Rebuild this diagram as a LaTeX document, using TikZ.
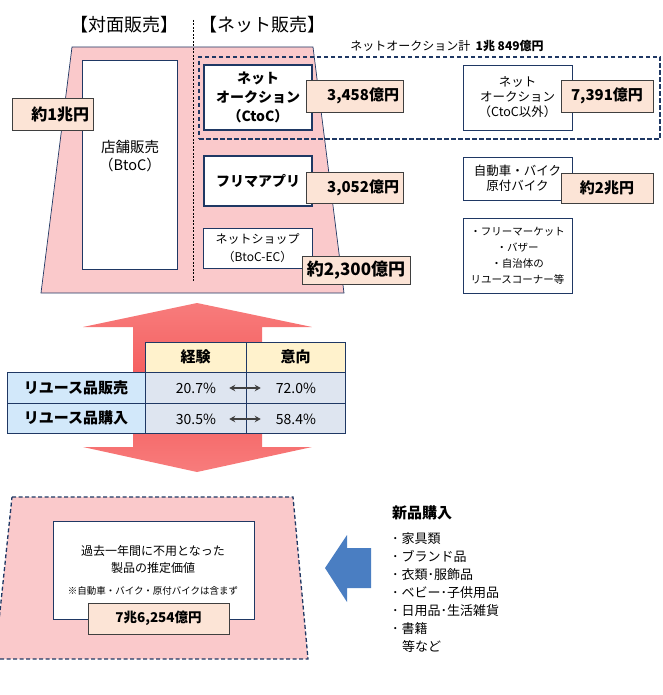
\documentclass[tikz,border=0pt]{standalone}
\usepackage{fontspec}
\setmainfont{Noto Sans CJK JP}
\usetikzlibrary{arrows.meta}
\definecolor{pinkf}{HTML}{FAC9CB}
\definecolor{navy}{HTML}{1F3864}
\definecolor{peach}{HTML}{FCE4D6}
\definecolor{lblb}{HTML}{3F3F3F}
\definecolor{hdr}{HTML}{FFF2CC}
\definecolor{rowhd}{HTML}{D2E8FA}
\definecolor{cellf}{HTML}{DEE5F0}
\definecolor{bluearr}{HTML}{4A7EC2}
\definecolor{redmid}{HTML}{F55A5A}
\definecolor{redend}{HTML}{F77C7C}
\newcommand{\fs}[2]{\fontsize{#1}{#2}\selectfont}
\begin{document}
\begin{tikzpicture}[x=1pt,y=-1pt,
  corners/.style n args={4}{at={({(#1+#3)/2},{(#2+#4)/2})}, minimum width={(#3-#1)*1pt}, minimum height={(#4-#2)*1pt}},
  thinbox/.style={draw=navy, line width=0.8pt, fill=white, inner sep=0pt, align=center},
  thickbox/.style={thinbox, line width=2.6pt, font=\bfseries\fs{14}{19}},
  vallbl/.style={draw=lblb, fill=peach, line width=0.8pt, inner sep=0pt, font=\bfseries\fs{15}{18}},
  cell/.style={draw=navy, line width=0.8pt, inner sep=0pt},
  txt/.style={inner sep=0pt, align=center},
  dbl/.style={{Stealth[length=6pt,width=6.5pt]}-{Stealth[length=6pt,width=6.5pt]}, line width=1.3pt, draw=black!75},
  trap/.style={fill=pinkf, draw=navy, line width=0.7pt}]
\useasboundingbox (0,0) rectangle (662,695);

% ---------- top part ----------
\node[txt, font=\fs{18}{20}] (hface) at (124,25) {【対面販売】};
\node[txt, font=\fs{18}{20}] (hnet) at (262,25) {【ネット販売】};

\draw[trap] (72,47) -- (313,47) -- (344,293) -- (41,293) -- cycle;
\draw[black, line width=0.6pt, dash pattern=on 2pt off 1.5pt] (193,20) -- (193,282);

\node[draw=navy, line width=1.3pt, dash pattern=on 4.5pt off 2.5pt, inner sep=0pt, corners={199}{57}{660}{139}] (aucall) {};
\node[txt, font=\fs{12}{14}, anchor=south] (auctitle) at (447,52) {ネットオークション計\ \ \textbf{1兆 849億円}};

\node[thinbox, corners={82}{60}{177}{269}] (store) {};
\node[txt, font=\fs{14.5}{18}] (storetxt) at (130,156) {店舗販売\\（BtoC）};

\node[thickbox, corners={204}{65}{312}{130}] (auc) {ネット\\オークション\\（CtoC）};
\node[thickbox, corners={204}{156}{312}{206}] (frima) {フリマアプリ};
\node[thinbox, font=\fs{12}{18}, corners={203}{228}{312}{268}] (shop) {ネットショップ\\（BtoC-EC）};

\node[vallbl, font=\bfseries\fs{16}{18}, corners={12}{98}{93}{130}, text width=73pt, align=right] (v1cho) {約1兆円};
\node[vallbl, corners={306}{80}{403}{112}, text width=89pt, align=right] (v3458) {3,458億円};
\node[vallbl, corners={306}{172}{403}{203}, text width=89pt, align=right] (v3052) {3,052億円};
\node[vallbl, font=\bfseries\fs{17}{18}, corners={302}{256}{410}{284}] (v2300) {約2,300億円};

\node[thinbox, font=\fs{12.5}{15}, corners={463}{65}{572}{130}] (aucother) {ネット\\オークション\\（CtoC以外）};
\node[thinbox, font=\fs{12.5}{15}, corners={463}{157}{572}{200}] (car) {自動車・バイク\\原付バイク};
\node[thinbox, font=\fs{10.5}{16}, corners={463}{218}{572}{293}] (flea) {・フリーマーケット\\・バザー\\・自治体の\\リユースコーナー等};

\node[vallbl, corners={561}{80}{653}{112}] (v7391) {7,391億円};
\node[vallbl, corners={561}{173}{653}{203}] (v2cho) {約2兆円};

% ---------- middle: big arrow and table ----------
\shade[top color=redend, bottom color=redend, middle color=redmid]
  (197,303) -- (312,327) -- (262,327) -- (262,447) -- (312,447) -- (197,472)
  -- (83,447) -- (133,447) -- (133,327) -- (83,327) -- cycle;

\node[cell, fill=hdr, font=\bfseries\fs{15}{18}, corners={145}{342}{246}{372}] (hexp) {経験};
\node[cell, fill=hdr, font=\bfseries\fs{15}{18}, corners={246}{342}{345}{372}] (hint) {意向};
\node[cell, fill=rowhd, font=\bfseries\fs{15}{18}, corners={7}{372}{145}{403}] (rsell) {リユース品販売};
\node[cell, fill=rowhd, font=\bfseries\fs{15}{18}, corners={7}{403}{145}{433}] (rbuy) {リユース品購入};
\node[cell, fill=cellf, corners={145}{372}{246}{403}] (c11) {};
\node[cell, fill=cellf, corners={246}{372}{345}{403}] (c12) {};
\node[cell, fill=cellf, corners={145}{403}{246}{433}] (c21) {};
\node[cell, fill=cellf, corners={246}{403}{345}{433}] (c22) {};
\node[txt, font=\fs{14}{16}] (v11) at (196,388) {20.7\%};
\node[txt, font=\fs{14}{16}] (v12) at (296,388) {72.0\%};
\node[txt, font=\fs{14}{16}] (v21) at (196,419) {30.5\%};
\node[txt, font=\fs{14}{16}] (v22) at (296,419) {58.4\%};
\draw[dbl, shorten <=13pt, shorten >=15pt] (v11.east) -- (v12.west);
\draw[dbl, shorten <=13pt, shorten >=15pt] (v21.east) -- (v22.west);

% ---------- bottom ----------
\draw[fill=pinkf, draw=navy, line width=1.3pt, dash pattern=on 4pt off 2.5pt]
  (12,497) -- (293,497) -- (308,659) -- (-5,659) -- cycle;
\node[thinbox, line width=1pt, corners={53}{521}{254}{619}] (est) {};
\node[txt, font=\fs{12}{17}] (esttxt) at (153,559) {過去一年間に不用となった\\製品の推定価値};
\node[txt, font=\fs{9.5}{11}] (estnote) at (153,591) {※自動車・バイク・原付バイクは含まず};
\node[vallbl, line width=1pt, font=\bfseries\fs{13.5}{16}, corners={88}{603}{229}{634}] (v7cho) {7兆6,254億円};

\fill[bluearr] (325,568) -- (347,535) -- (347,548) -- (371,548) -- (371,588) -- (347,588) -- (347,602) -- cycle;

\node[txt, anchor=west, font=\bfseries\fs{15}{18}] (newbuy) at (392,513) {新品購入};
\node[txt, anchor=north west, align=left, font=\fs{13}{18}] (newlist) at (392,532)
  {･ 家具類\\･ ブランド品\\･ 衣類･服飾品\\･ ベビー･子供用品\\･ 日用品･生活雑貨\\･ 書籍\\\hspace*{10pt}等など};
\end{tikzpicture}
\end{document}
